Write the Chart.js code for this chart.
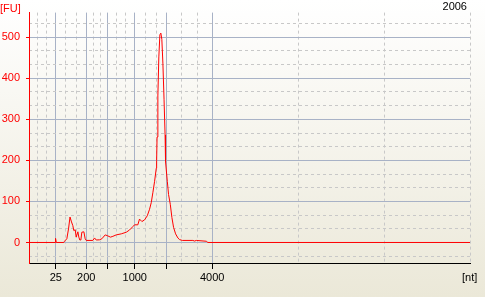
<!DOCTYPE html>
<html>
<head>
<meta charset="utf-8">
<script src="https://cdn.jsdelivr.net/npm/chart.js@4.4.1/dist/chart.umd.min.js"></script>
<style>
  html, body { margin: 0; padding: 0; }
  #wrap { position: relative; width: 485px; height: 297px; overflow: hidden;
          background: linear-gradient(to bottom, #ffffff 0%, #ebe8d8 100%);
          font-family: "Liberation Sans", Arial, sans-serif; }
  #c { position: absolute; left: 0; top: 0; }
  .lbl { position: absolute; font-size: 11px; line-height: 11px; white-space: nowrap; }
</style>
</head>
<body>
<div id="wrap">
  <canvas id="c" width="485" height="297"></canvas>
  <div class="lbl" style="left:0px; top:3px; color:#ff0000;">[FU]</div>
  <div class="lbl" style="right:18px; top:1px; color:#000;">2006</div>
  <div class="lbl" style="left:462px; top:272px; color:#000;">[nt]</div>
</div>
<script>
// Migration time (s) and fluorescence (FU)
const times = [19.00, 21.95, 22.01, 22.09, 22.95, 23.03, 23.29, 23.48, 23.65, 23.74,
  23.82, 23.97, 24.08, 24.24, 24.35, 24.54, 24.65, 24.76, 24.88, 24.99,
  25.22, 25.37, 25.49, 26.24, 26.43, 26.62, 27.00, 27.26, 27.64, 27.94,
  28.24, 28.51, 28.89, 29.46, 30.03, 30.40, 30.77, 30.97, 31.34, 31.53,
  31.80, 32.10, 32.41, 32.67, 32.86, 33.04, 33.24, 33.43, 33.47, 33.52,
  33.61, 33.72, 33.84, 33.95, 34.06, 34.18, 34.31, 34.43, 34.48, 34.68,
  34.82, 35.02, 35.20, 35.39, 35.62, 35.88, 36.07, 36.38, 37.58, 37.77,
  37.97, 39.10, 39.28, 69.00];
const fu = [0, 0, 10, 0, 0, 3, 9, 33, 62, 62,
  50, 41, 29, 31, 13, 26, 13, 6, 6, 25,
  26, 9, 5, 5, 11, 6, 6.5, 9, 18.5, 16,
  13, 15, 18.5, 21, 25, 30.5, 38.5, 43, 43, 57,
  51, 55, 65, 81, 97, 121, 149, 181, 200, 257,
  357, 452, 506, 510, 495, 437, 349, 262, 197, 149,
  117, 93, 61, 37, 21, 11, 7, 5, 5, 3.5,
  5, 3, 0, 0];

// Ladder peaks (migration time) and their size labels [nt]
const ladderTimes = [22.04, 25.49, 27.94, 30.99, 34.63, 39.77];
const xTickLabels = ['25', '200', '', '1000', '', '4000'];
const yTicks = [0, 100, 200, 300, 400, 500];

const X_MIN = 19, X_MAX = 69, Y_MIN = -50, Y_MAX = 560;

// minor (dashed) grid positions: thirds between major lines
const bounds = [X_MIN].concat(ladderTimes, [X_MAX]);
const xMinor = [];
for (let i = 0; i < bounds.length - 1; i++) {
  const a = bounds[i], b = bounds[i + 1];
  xMinor.push(a + (b - a) / 3, a + 2 * (b - a) / 3);
}
xMinor.push(X_MAX);
const yMinor = [];
for (let k = -1; k <= 16; k++) {
  if (k % 3 !== 0) yMinor.push(k * 100 / 3);
}

const MAJOR = 'rgb(168,178,198)';
const MINOR = 'rgb(200,200,200)';
const FONT = { family: '"Liberation Sans", Arial, sans-serif', size: 11 };

new Chart(document.getElementById('c'), {
  type: 'line',
  data: {
    datasets: [{
      data: times.map((t, i) => ({ x: t, y: fu[i] })),
      borderColor: '#ff0000',
      borderWidth: 1,
      pointRadius: 0,
      tension: 0,
      fill: false,
      xAxisID: 'x',
      yAxisID: 'y'
    }]
  },
  options: {
    responsive: false,
    animation: false,
    devicePixelRatio: 1,
    layout: { padding: { top: 9, right: 15, left: 0, bottom: 0 } },
    plugins: { legend: { display: false }, tooltip: { enabled: false } },
    scales: {
      x: {
        type: 'linear', position: 'bottom', min: X_MIN, max: X_MAX,
        afterBuildTicks: s => { s.ticks = ladderTimes.map(v => ({ value: v })); },
        afterFit: s => { s.height = 34; },
        ticks: { color: '#000', font: FONT, padding: 2, maxRotation: 0, autoSkip: false,
                 callback: (v, i) => xTickLabels[i] },
        grid: { color: MAJOR, lineWidth: 1, tickColor: '#000', tickLength: 6, drawTicks: true },
        border: { display: true, color: '#000', width: 1 }
      },
      x2: {
        type: 'linear', position: 'bottom', min: X_MIN, max: X_MAX,
        afterBuildTicks: s => { s.ticks = xMinor.map(v => ({ value: v })); },
        afterFit: s => { s.height = 0; },
        ticks: { display: false },
        grid: { color: MINOR, lineWidth: 1, drawTicks: false },
        border: { display: false, dash: [3, 3] }
      },
      y: {
        type: 'linear', position: 'left', min: Y_MIN, max: Y_MAX,
        afterBuildTicks: s => { s.ticks = yTicks.map(v => ({ value: v })); },
        afterFit: s => { s.width = 29; },
        ticks: { color: '#ff0000', font: FONT, padding: 6, autoSkip: false,
                 callback: v => String(v) },
        grid: { color: MAJOR, lineWidth: 1, tickColor: '#ff0000', tickLength: 3 },
        border: { display: true, color: '#ff0000', width: 1 }
      },
      y2: {
        type: 'linear', position: 'left', min: Y_MIN, max: Y_MAX,
        afterBuildTicks: s => { s.ticks = yMinor.map(v => ({ value: v })); },
        afterFit: s => { s.width = 0; },
        ticks: { display: false },
        grid: { color: MINOR, lineWidth: 1, drawTicks: false },
        border: { display: false, dash: [3, 3] }
      }
    }
  }
});
</script>
</body>
</html>
